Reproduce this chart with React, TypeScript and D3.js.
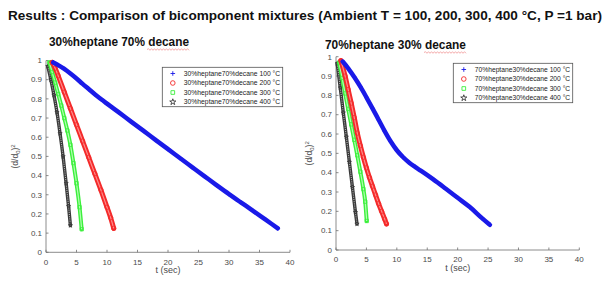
import React from "react";
import * as d3 from "d3";

// Tick values and labels
const xTicks = [0, 5, 10, 15, 20, 25, 30, 35, 40];
const yTicks = [0, 0.1, 0.2, 0.3, 0.4, 0.5, 0.6, 0.7, 0.8, 0.9, 1];
const yTickLabels = ["0", "0.1", "0.2", "0.3", "0.4", "0.5", "0.6", "0.7", "0.8", "0.9", "1"];
const temps = ["100", "200", "300", "400"];

// 30% heptane 70% decane : [t (sec), (d/d0)^2]
const left100: [number, number][] = [
  [1.2, 0.99], [2, 0.976], [3, 0.956], [4, 0.932], [5, 0.906], [6, 0.878], [7, 0.851],
  [8, 0.824], [9, 0.799], [10, 0.775], [12, 0.728], [14, 0.68], [16, 0.633], [18, 0.585],
  [20, 0.538], [22, 0.49], [24, 0.443], [26, 0.396], [28, 0.349], [30, 0.303], [32, 0.259],
  [34, 0.215], [36, 0.17], [38, 0.125],
];
const left200: [number, number][] = [
  [1.0, 0.99], [1.5, 0.96], [2, 0.92], [3, 0.835], [4, 0.75], [5, 0.665], [6, 0.58],
  [7, 0.495], [8, 0.41], [9, 0.325], [10, 0.235], [10.6, 0.18], [11.1, 0.125],
];
const left300: [number, number][] = [
  [0.55, 0.99], [1, 0.94], [1.5, 0.885], [2, 0.825], [2.5, 0.765], [3, 0.7], [3.5, 0.635],
  [4, 0.56], [4.5, 0.465], [5, 0.36], [5.5, 0.235], [5.85, 0.12],
];
const left400: [number, number][] = [
  [0.3, 0.97], [0.8, 0.9], [1.3, 0.82], [1.8, 0.73], [2.3, 0.62], [2.8, 0.5], [3.3, 0.36],
  [3.7, 0.24], [4.0, 0.14],
];

// 70% heptane 30% decane
const right100: [number, number][] = [
  [1.1, 0.975], [2, 0.94], [3, 0.895], [4, 0.845], [5, 0.79], [6, 0.733], [7, 0.674],
  [8, 0.615], [9, 0.561], [10, 0.516], [11, 0.481], [12, 0.453], [13, 0.43], [14, 0.409],
  [16, 0.365], [18, 0.318], [20, 0.27], [22, 0.222], [24, 0.165], [25.3, 0.13],
];
const right200: [number, number][] = [
  [0.8, 0.98], [1.5, 0.9], [2, 0.83], [2.5, 0.76], [3, 0.685], [3.5, 0.605], [4, 0.54],
  [4.5, 0.48], [5, 0.425], [5.5, 0.375], [6, 0.33], [6.5, 0.285], [7, 0.24], [7.5, 0.2],
  [8, 0.16], [8.3, 0.135],
];
const right300: [number, number][] = [
  [0.5, 0.97], [1, 0.89], [1.5, 0.81], [2, 0.73], [2.5, 0.65], [3, 0.57], [3.5, 0.49],
  [4, 0.405], [4.5, 0.315], [4.8, 0.25], [5.05, 0.15],
];
const right400: [number, number][] = [
  [0.2, 0.965], [0.7, 0.84], [1.2, 0.71], [1.7, 0.585], [2.2, 0.455], [2.7, 0.325],
  [3.2, 0.195], [3.45, 0.135],
];

const leftSeries = [left100, left200, left300, left400];
const rightSeries = [right100, right200, right300, right400];

// one look per temperature (MATLAB markers: + o square pentagram)
const looks = [
  { color: "#1a1ae8", width: 4.5, inner: null as string | null, innerWidth: 0, dash: "", marker: "plus", size: 2.2 },
  { color: "#f42a2a", width: 5, inner: "#ff8a8a", innerWidth: 1.2, dash: "", marker: "circle", size: 2.2 },
  { color: "#3cef3c", width: 4, inner: "#b0ffb0", innerWidth: 1.2, dash: "", marker: "square", size: 2.1 },
  { color: "#3a3a3a", width: 3.4, inner: "#c0c0c0", innerWidth: 1, dash: "1 1.2", marker: "star", size: 1.6 },
];

const FONT = "'Liberation Sans', Arial, sans-serif";
const AXIS = "#6e6e6e";
const TICKTXT = "#4a4a4a";

function markerPath(kind: string, s: number) {
  if (kind === "plus") return `M${-s},0H${s}M0,${-s}V${s}`;
  if (kind === "circle") return d3.symbol(d3.symbolCircle, Math.PI * s * s)()!;
  if (kind === "square") return `M${-s * 0.8},${-s * 0.8}h${s * 1.6}v${s * 1.6}h${-s * 1.6}z`;
  return d3.symbol(d3.symbolStar, s * s * 2.2)()!;
}

function wavy(x: number, y: number, w: number) {
  const p = d3.path();
  p.moveTo(x, y);
  for (let i = 1; i * 1.5 <= w; i++) p.lineTo(x + i * 1.5, y + (i % 2 ? -0.8 : 0.8));
  return p.toString();
}

interface PanelProps {
  series: [number, number][][];
  mix: string;
  xr: [number, number];
  yr: [number, number];
  legendBox: { x: number; y: number; w: number; h: number };
  yLabelX: number;
  xLabelY: number;
  tickLabelY: number;
}

function Panel({ series, mix, xr, yr, legendBox, yLabelX, xLabelY, tickLabelY }: PanelProps) {
  const x = d3.scaleLinear().domain([0, 40]).range(xr);
  const y = d3.scaleLinear().domain([0, 1]).range(yr);
  const line = d3
    .line<[number, number]>()
    .x((d) => x(d[0]))
    .y((d) => y(d[1]))
    .curve(d3.curveMonotoneX);

  return (
    <g>
      {/* axes */}
      <line x1={xr[0]} x2={xr[1]} y1={yr[0]} y2={yr[0]} stroke={AXIS} strokeWidth={0.8} />
      <line x1={xr[0]} x2={xr[0]} y1={yr[0]} y2={yr[1]} stroke={AXIS} strokeWidth={0.8} />
      {xTicks.map((t) => (
        <g key={"x" + t}>
          <line x1={x(t)} x2={x(t)} y1={yr[0]} y2={yr[0] - 2.5} stroke={AXIS} strokeWidth={0.8} />
          <text x={x(t)} y={tickLabelY} textAnchor="middle" fontSize={8} fill={TICKTXT} fontFamily={FONT}>
            {t}
          </text>
        </g>
      ))}
      {yTicks.map((v, i) => (
        <g key={"y" + v}>
          <line x1={xr[0]} x2={xr[0] + 2.5} y1={y(v)} y2={y(v)} stroke={AXIS} strokeWidth={0.8} />
          <text x={xr[0] - 4} y={y(v) + 2.8} textAnchor="end" fontSize={8} fill={TICKTXT} fontFamily={FONT}>
            {yTickLabels[i]}
          </text>
        </g>
      ))}
      <text x={(xr[0] + xr[1]) / 2} y={xLabelY} textAnchor="middle" fontSize={9} fill={TICKTXT} fontFamily={FONT}>
        t (sec)
      </text>
      <text
        transform={`translate(${yLabelX},${(yr[0] + yr[1]) / 2}) rotate(-90)`}
        textAnchor="middle"
        fontSize={8.5}
        fill={TICKTXT}
        fontFamily={FONT}
      >
        (d/d<tspan fontSize={6} dy={2}>0</tspan>
        <tspan dy={-2}>)</tspan>
        <tspan fontSize={6} dy={-3.5}>2</tspan>
      </text>

      {/* series: dense markers drawn as a band, heaviest first */}
      {[3, 2, 1, 0].map((k) => {
        const lk = looks[k];
        const d = line(series[k])!;
        return (
          <g key={"s" + k}>
            <path d={d} fill="none" stroke={lk.color} strokeWidth={lk.width} strokeLinecap="round" />
            {lk.inner && (
              <path d={d} fill="none" stroke={lk.inner} strokeWidth={lk.innerWidth} strokeDasharray={lk.dash || undefined} />
            )}
            {series[k].map((p, j) => (
              <path
                key={j}
                d={markerPath(lk.marker, lk.size)}
                transform={`translate(${x(p[0])},${y(p[1])})`}
                fill="none"
                stroke={lk.color}
                strokeWidth={0.8}
              />
            ))}
          </g>
        );
      })}

      {/* legend */}
      <rect x={legendBox.x} y={legendBox.y} width={legendBox.w} height={legendBox.h} fill="#fff" stroke="#555" strokeWidth={0.8} />
      {temps.map((tc, i) => {
        const ry = legendBox.y + 6.2 + i * 9.5;
        const lk = looks[i];
        return (
          <g key={"l" + tc}>
            <path
              d={markerPath(lk.marker, 2.3)}
              transform={`translate(${legendBox.x + 10.5},${ry})`}
              fill="none"
              stroke={lk.color}
              strokeWidth={0.9}
            />
            <text
              x={legendBox.x + 21.5}
              y={ry + 2.4}
              fontSize={7}
              fill="#222"
              fontFamily={FONT}
              textLength={legendBox.w - 24}
              lengthAdjust="spacingAndGlyphs"
            >
              {`${mix} ${tc} °C`}
            </text>
          </g>
        );
      })}
    </g>
  );
}

export default function App() {
  return (
    <svg width={607} height={281} style={{ position: "absolute", left: 0, top: 0 }} fontFamily={FONT}>
      <rect width={607} height={281} fill="#fff" />
      <text x={8} y={20} fontSize={13} fontWeight="bold" fill="#111" textLength={594} lengthAdjust="spacingAndGlyphs">
        Results : Comparison of bicomponent mixtures (Ambient T = 100, 200, 300, 400 °C, P =1 bar)
      </text>
      <text x={49} y={45.5} fontSize={12} fontWeight="bold" fill="#111" textLength={140} lengthAdjust="spacingAndGlyphs">
        30%heptane 70% decane
      </text>
      <path d={wavy(147, 49.5, 42)} fill="none" stroke="#e88" strokeWidth={0.7} />
      <text x={325} y={48.5} fontSize={12} fontWeight="bold" fill="#111" textLength={141} lengthAdjust="spacingAndGlyphs">
        70%heptane 30% decane
      </text>
      <path d={wavy(424, 52.5, 42)} fill="none" stroke="#e88" strokeWidth={0.7} />

      <Panel
        series={leftSeries}
        mix="30%heptane70%decane"
        xr={[46, 290]}
        yr={[252.3, 60.5]}
        legendBox={{ x: 162.3, y: 67.3, w: 120.4, h: 39.4 }}
        yLabelX={18}
        xLabelY={273}
        tickLabelY={264.5}
      />
      <Panel
        series={rightSeries}
        mix="70%heptane30%decane"
        xr={[336, 579.3]}
        yr={[250, 56.7]}
        legendBox={{ x: 453.3, y: 63.3, w: 119.4, h: 39.4 }}
        yLabelX={312}
        xLabelY={271}
        tickLabelY={261.5}
      />
    </svg>
  );
}
